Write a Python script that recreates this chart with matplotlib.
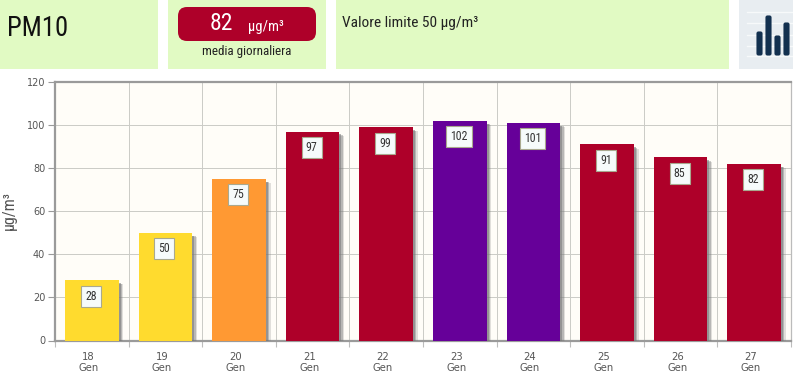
import matplotlib
matplotlib.use("Agg")
import matplotlib.pyplot as plt
from matplotlib.patches import Rectangle, FancyBboxPatch
import matplotlib.patheffects as pe
from matplotlib import font_manager as fm

names = {f.name for f in fm.fontManager.ttflist}
NARROW = [n for n in ["Liberation Sans Narrow", "Roboto Condensed", "Roboto", "DejaVu Sans"] if n in names]

days = ["18", "19", "20", "21", "22", "23", "24", "25", "26", "27"]
month = "Gen"
values = [28, 50, 75, 97, 99, 102, 101, 91, 85, 82]
bar_colors = ["#FFDB2E", "#FFDB2E", "#FF9933", "#AE0029", "#AE0029",
              "#660099", "#660099", "#AE0029", "#AE0029", "#AE0029"]
y_ticks = [0, 20, 40, 60, 80, 100, 120]
title = "PM10"
current = "82"
unit = "µg/m³"
current_note = "media giornaliera"
limit_text = "Valore limite 50 µg/m³"
y_label = "µg/m³"
icon_bars = [23, 39, 19, 32]

W, H = 793, 383
fig = plt.figure(figsize=(W / 100, H / 100), dpi=100, facecolor="white")

# Header layer in pixel coordinates
bg = fig.add_axes([0, 0, 1, 1], zorder=0)
bg.set_xlim(0, W)
bg.set_ylim(H, 0)
bg.axis("off")
GREEN = "#E1FAC3"
for x0, x1 in [(0, 158), (168, 326), (336, 729)]:
    bg.add_patch(Rectangle((x0, 0), x1 - x0, 69, fc=GREEN, ec="none"))
bg.add_patch(Rectangle((739, 0), 54, 69, fc="#E8EDF1", ec="none"))
for y in [12, 23, 35, 46, 56]:
    bg.plot([747, 793], [y, y], color="#F7F9FA", lw=1, zorder=1)
for i, h in enumerate(icon_bars):
    bg.add_patch(FancyBboxPatch((757 + 9 * i, 55 - h), 5, h,
                                boxstyle="round,pad=0,rounding_size=1.5",
                                fc="#12304F", ec="#12304F", lw=0.8, zorder=2))
bg.add_patch(FancyBboxPatch((178, 7), 138, 34, boxstyle="round,pad=0,rounding_size=9",
                            fc="#AE0029", ec="none"))
bg.text(7, 28.5, title, fontsize=19.2, family=NARROW, color="#111111", va="center", ha="left")
bg.text(221, 24, current, fontsize=17, family=NARROW, color="white", va="center", ha="center")
bg.text(266, 27, unit, fontsize=10.5, family=NARROW, color="white", va="center", ha="center")
bg.text(247, 51, current_note, fontsize=9.4, family=NARROW, color="#222222", va="center", ha="center")
bg.text(342, 23, limit_text, fontsize=11.1, family=NARROW, color="#222222", va="center", ha="left")
bg.text(9, 211, y_label, fontsize=11.5, family=NARROW, color="#555555", va="center", ha="center", rotation=90)

# Chart
left, right, top, bottom = 55, 791, 82, 340.5
ax = fig.add_axes([left / W, 1 - bottom / H, (right - left) / W, (bottom - top) / H], zorder=1)
ax.set_facecolor("#FFFDF8")
x = list(range(len(values)))
bars = ax.bar(x, values, width=0.73, color=bar_colors, zorder=3, linewidth=0)
for b in bars:
    b.set_path_effects([
        pe.SimplePatchShadow(offset=(3.4, -3), shadow_rgbFace="#777777", alpha=0.22),
        pe.SimplePatchShadow(offset=(2.4, -2.4), shadow_rgbFace="#777777", alpha=0.38),
        pe.SimplePatchShadow(offset=(1.4, -2), shadow_rgbFace="#777777", alpha=0.55),
        pe.Normal(),
    ])
ax.set_xlim(-0.5, len(values) - 0.5)
ax.set_ylim(0, 120)
ax.set_yticks(y_ticks)
ax.set_xticks([i - 0.5 for i in range(len(values) + 1)], minor=False)
ax.set_xticklabels([])
ax.grid(True, color="#CBCBC6", lw=0.7, zorder=1)
ax.set_axisbelow(True)
ax.tick_params(axis="y", length=5, width=0.8, color="#9A9A9A", labelcolor="#555555", labelsize=7, pad=2)
ax.tick_params(axis="x", length=4, width=0.8, color="#BDBDBD", pad=2)
for side, sp in ax.spines.items():
    sp.set_color("#9A9A9A")
    sp.set_linewidth(1.6)
ax.spines["right"].set_linewidth(0.9)
ax.spines["right"].set_color("#BBBBBB")

for i, v in enumerate(values):
    ax.annotate(str(v), (i, v), xytext=(-0.7, -11.5), textcoords="offset points",
                ha="center", va="center", fontsize=8.6, family=NARROW, color="#333333", zorder=5,
                bbox=dict(boxstyle="square,pad=0.34", fc="#F6FBFB", ec="#A9A98F", lw=0.8))
    ax.annotate(f"{days[i]}\n{month}", (i, 0), xytext=(-2.5, -8.5), textcoords="offset points",
                ha="center", va="top", fontsize=7.2, color="#555555",
                linespacing=1.12, annotation_clip=False)

fig.savefig("out.png", dpi=100)
